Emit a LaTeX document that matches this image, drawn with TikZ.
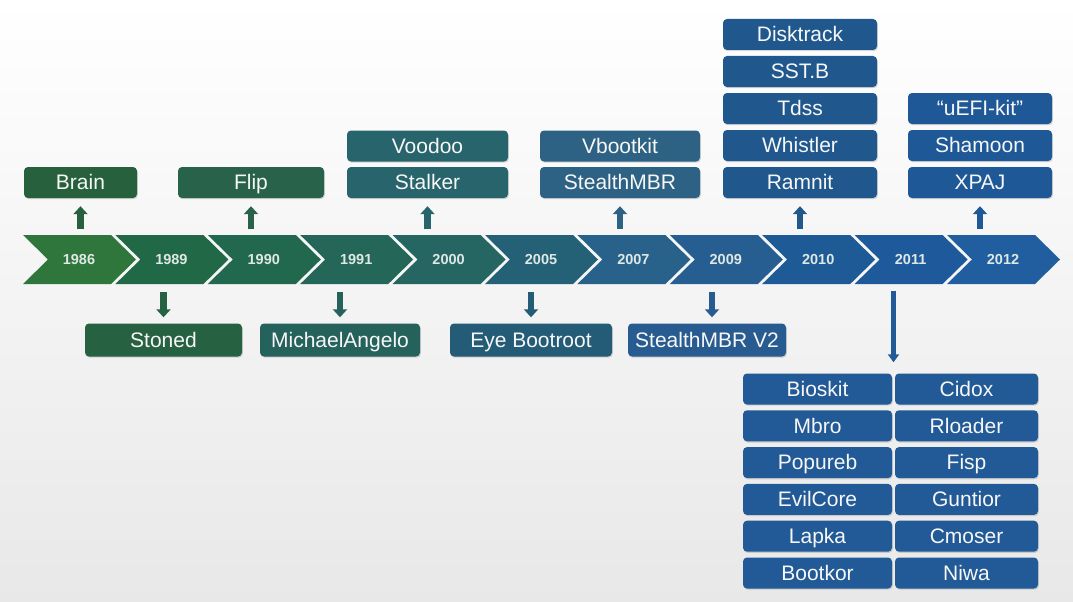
\documentclass[tikz,border=0pt]{standalone}
\usepackage{fontspec}
\setmainfont{Liberation Sans}
\usetikzlibrary{arrows.meta,shadows,calc}
\definecolor{c0}{RGB}{46,118,60}
\definecolor{c1}{RGB}{33,104,70}
\definecolor{c2}{RGB}{34,104,78}
\definecolor{c3}{RGB}{36,103,88}
\definecolor{c4}{RGB}{38,102,98}
\definecolor{c5}{RGB}{36,96,118}
\definecolor{c6}{RGB}{40,98,138}
\definecolor{c7}{RGB}{38,94,145}
\definecolor{c8}{RGB}{30,90,150}
\definecolor{c9}{RGB}{30,90,155}
\definecolor{c10}{RGB}{33,94,160}
\definecolor{bBrain}{RGB}{38,96,60}
\definecolor{bFlip}{RGB}{40,98,75}
\definecolor{bStoned}{RGB}{38,98,66}
\definecolor{bMichael}{RGB}{38,98,92}
\definecolor{bVoodoo}{RGB}{40,100,108}
\definecolor{bEye}{RGB}{36,92,120}
\definecolor{bVboot}{RGB}{46,98,132}
\definecolor{bSV}{RGB}{40,92,145}
\definecolor{bDisk}{RGB}{32,88,142}
\definecolor{bUefi}{RGB}{30,88,150}
\definecolor{bGrid}{RGB}{33,90,150}
\definecolor{yrtext}{RGB}{222,232,228}
\begin{document}
\begin{tikzpicture}[x=1pt,y=-1pt,
  box/.style={rounded corners=4pt, minimum height=31pt, inner sep=0pt,
    text height=16.5pt, text depth=2pt,
    text=white!94!gray, font=\fontsize{21}{24}\selectfont,
    drop shadow={opacity=0.3, shadow xshift=0.8pt, shadow yshift=-1.2pt}},
  yr/.style={font=\fontsize{14.5}{17}\selectfont\bfseries, text=yrtext,
    minimum height=50pt, inner sep=0pt},
  uparr/.style={line width=6.5pt, -{Triangle[width=14pt,length=8pt]},
    shorten <=5pt, shorten >=8pt},
  dnarr/.style={line width=6.5pt, -{Triangle[width=14pt,length=8pt]},
    shorten <=7.5pt, shorten >=6pt},
  longarr/.style={line width=4.5pt, -{Triangle[width=11pt,length=8pt]},
    shorten <=6pt, shorten >=11pt}
]
\useasboundingbox (0,0) rectangle (1073,602);
\shade[top color=white, bottom color=white!91!black] (0,0) rectangle (1073,602);

% chevrons
\foreach \i/\yy in {0/1986,1/1989,2/1990,3/1991,4/2000,5/2005,6/2007,7/2009,8/2010,9/2011,10/2012}{
  \pgfmathsetmacro{\xo}{23+92.4*\i}
  \fill[c\i] (\xo,235) -- ++(88,0) -- ++(25,24.5) -- ++(-25,24.5) -- ++(-88,0) -- ++(25,-24.5) -- cycle;
  \node[yr] (y\yy) at (\xo+56,259.5) {\yy};
}

% upper boxes
\node[box, fill=bBrain, minimum width=113pt] (brain) at (80.5,182.5) {Brain};
\node[box, fill=bFlip, minimum width=146pt] (flip) at (251,182.5) {Flip};
\node[box, fill=bVoodoo, minimum width=161pt] (voodoo) at (427.5,146) {Voodoo};
\node[box, fill=bVoodoo, minimum width=161pt] (stalker) at (427.5,182.5) {Stalker};
\node[box, fill=bVboot, minimum width=160pt] (vbootkit) at (620,146) {Vbootkit};
\node[box, fill=bVboot, minimum width=160pt] (stealth) at (620,182.5) {StealthMBR};
\node[box, fill=bDisk, minimum width=154pt] (disktrack) at (800,34.5) {Disktrack};
\node[box, fill=bDisk, minimum width=154pt] (sstb) at (800,71.5) {SST.B};
\node[box, fill=bDisk, minimum width=154pt] (tdss) at (800,108.5) {Tdss};
\node[box, fill=bDisk, minimum width=154pt] (whistler) at (800,145.5) {Whistler};
\node[box, fill=bDisk, minimum width=154pt] (ramnit) at (800,182.5) {Ramnit};
\node[box, fill=bUefi, minimum width=144pt] (uefi) at (980,108.5) {``uEFI-kit''};
\node[box, fill=bUefi, minimum width=144pt] (shamoon) at (980,145.5) {Shamoon};
\node[box, fill=bUefi, minimum width=144pt] (xpaj) at (980,182.5) {XPAJ};

% lower boxes
\node[box, fill=bStoned, minimum width=157pt, minimum height=33pt] (stoned) at (163.5,340) {Stoned};
\node[box, fill=bMichael, minimum width=160pt, minimum height=33pt] (michael) at (340,340) {MichaelAngelo};
\node[box, fill=bEye, minimum width=162pt, minimum height=33pt] (eye) at (531,340) {Eye Bootroot};
\node[box, fill=bSV, minimum width=158pt, minimum height=33pt] (stealthv2) at (707,340) {StealthMBR V2};

% 2011 grid
\foreach \n/\l/\r [count=\k from 0] in {a/Bioskit/Cidox, b/Mbro/Rloader, c/Popureb/Fisp, d/EvilCore/Guntior, e/Lapka/Cmoser, f/Bootkor/Niwa}{
  \node[box, fill=bGrid, minimum width=149pt] (L\n) at (817.5,389+36.8*\k) {\l};
  \node[box, fill=bGrid, minimum width=143pt] (R\n) at (966.5,389+36.8*\k) {\r};
}
\coordinate (gridtop) at ($(La.north east)!0.5!(Ra.north west)$);

% arrows
\draw[uparr, draw=bBrain] (brain.south |- y1986.north) -- (brain.south);
\draw[uparr, draw=bFlip] (flip.south |- y1990.north) -- (flip.south);
\draw[uparr, draw=bVoodoo] (stalker.south |- y2000.north) -- (stalker.south);
\draw[uparr, draw=bVboot] (stealth.south |- y2007.north) -- (stealth.south);
\draw[uparr, draw=bDisk] (ramnit.south |- y2010.north) -- (ramnit.south);
\draw[uparr, draw=bUefi] (xpaj.south |- y2012.north) -- (xpaj.south);
\draw[dnarr, draw=bStoned] (stoned.north |- y1989.south) -- (stoned.north);
\draw[dnarr, draw=bMichael] (michael.north |- y1991.south) -- (michael.north);
\draw[dnarr, draw=bEye] (eye.north |- y2005.south) -- (eye.north);
\draw[dnarr, draw=bSV] ([xshift=5pt]stealthv2.north |- y2009.south) -- ([xshift=5pt]stealthv2.north);
\draw[longarr, draw=bGrid] (gridtop |- y2011.south) -- (gridtop);
\end{tikzpicture}
\end{document}
